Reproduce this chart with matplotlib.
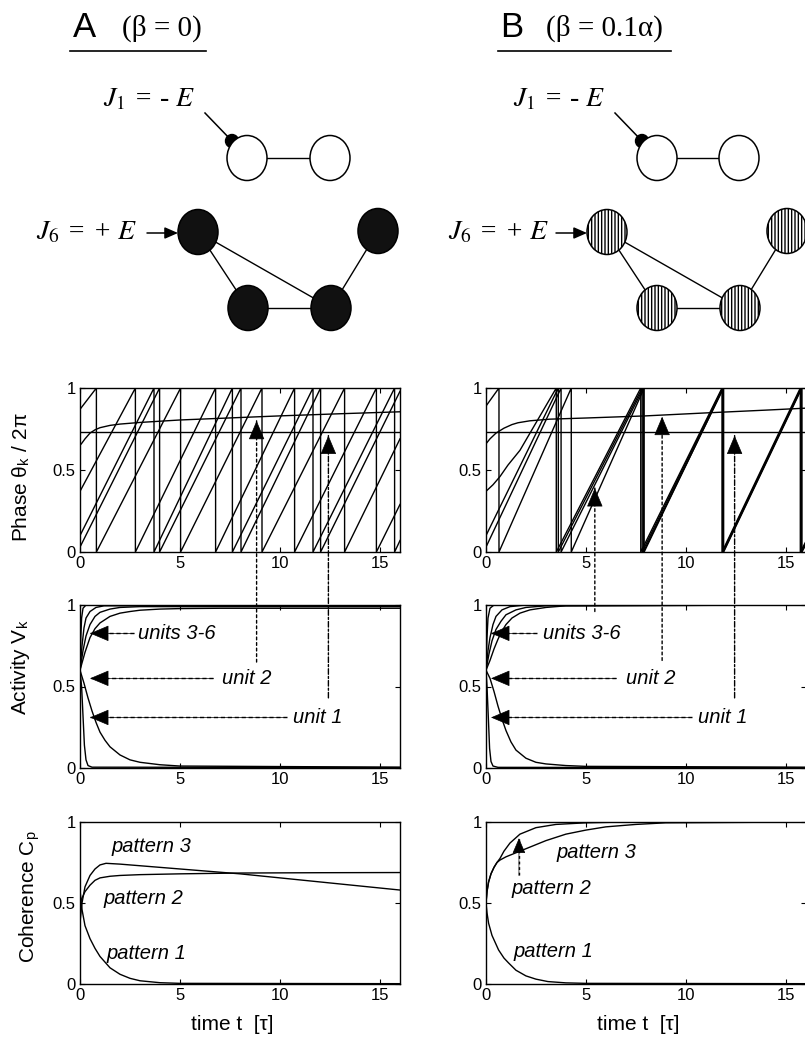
import matplotlib
matplotlib.use('Agg')
import matplotlib.pyplot as plt
from matplotlib.patches import Ellipse, ConnectionPatch

plt.rcParams['font.family'] = ['Liberation Sans', 'DejaVu Sans']
plt.rcParams['mathtext.fontset'] = 'stix'

# ---------------- data ----------------
# phase of the oscillating units 3-6 (start points, wrap times, end phase)
phaseA_init_t = [[0.0], [0.0], [0.0], [0.0]]
phaseA_init_p = [[0.87], [0.37], [0.10], [0.03]]
phaseA_wraps = [[0.82, 5.03, 9.10, 13.23],
                [2.77, 6.78, 10.73, 14.82],
                [3.70, 7.62, 11.65, 15.73],
                [3.98, 8.05, 12.03]]
phaseA_end = [0.69, 0.29, 0.07, 0.98]

phaseB_init_t = [[0.0], [0.0, 0.35, 0.7, 1.1, 1.7], [0.0], [0.0]]
phaseB_init_p = [[0.89], [0.37, 0.41, 0.46, 0.53, 0.62], [0.10], [0.03]]
phaseB_wraps = [[0.65, 4.27, 7.92, 11.88, 15.80],
                [3.52, 7.75, 11.82, 15.74],
                [3.62, 7.82, 11.85, 15.78],
                [3.76, 7.88, 11.90, 15.82]]
phaseB_end = [0.05, 0.06, 0.05, 0.04]

phase_u1 = 0.734
phaseA_u2_t = [0, 0.1, 0.25, 0.5, 0.75, 1, 1.5, 2, 3, 5, 8, 10, 13, 16]
phaseA_u2_p = [0.65, 0.665, 0.69, 0.725, 0.745, 0.758, 0.772, 0.78, 0.79, 0.805, 0.82, 0.83, 0.843, 0.855]
phaseB_u2_t = [0, 0.2, 0.5, 0.9, 1.3, 1.6, 2.2, 3.2, 5, 8, 11, 14, 16]
phaseB_u2_p = [0.66, 0.69, 0.725, 0.755, 0.777, 0.788, 0.8, 0.81, 0.817, 0.83, 0.848, 0.865, 0.877]

# activities (units 3-6, unit 1, unit 2)
actA_t = [[0, 0.04, 0.08, 0.15, 0.3, 16],
          [0, 0.1, 0.2, 0.3, 0.5, 0.8, 1.2, 16],
          [0, 0.15, 0.3, 0.5, 0.75, 1, 1.5, 2, 3, 16],
          [0, 0.25, 0.5, 0.75, 1, 1.5, 2, 2.5, 3, 4, 5, 7, 16],
          [0, 0.2, 0.4, 0.6, 0.8, 1.0, 1.25, 1.5, 2, 2.5, 3, 4, 5, 16],
          [0, 0.08, 0.15, 0.22, 0.3, 0.4, 0.6, 16]]
actA_v = [[0.6, 0.8, 0.92, 0.98, 1.0, 1.0],
          [0.6, 0.75, 0.86, 0.92, 0.96, 0.985, 0.995, 1.0],
          [0.6, 0.72, 0.81, 0.88, 0.93, 0.955, 0.975, 0.985, 0.99, 0.99],
          [0.6, 0.71, 0.8, 0.855, 0.89, 0.93, 0.95, 0.96, 0.968, 0.975, 0.978, 0.98, 0.98],
          [0.6, 0.52, 0.43, 0.35, 0.28, 0.22, 0.17, 0.13, 0.08, 0.05, 0.035, 0.02, 0.012, 0.005],
          [0.6, 0.5, 0.32, 0.14, 0.05, 0.015, 0.005, 0.003]]
actB_t = [[0, 0.05, 0.1, 0.2, 0.4, 16],
          [0, 0.1, 0.2, 0.35, 0.5, 0.8, 1.2, 2, 16],
          [0, 0.15, 0.3, 0.5, 0.75, 1, 1.5, 2, 3, 16],
          [0, 0.2, 0.4, 0.6, 0.8, 1.0, 1.3, 1.7, 2.2, 3, 4, 16],
          [0, 0.2, 0.4, 0.6, 0.8, 1.0, 1.25, 1.5, 2, 2.5, 3, 4, 5, 16],
          [0, 0.05, 0.12, 0.18, 0.25, 0.35, 0.6, 16]]
actB_v = [[0.6, 0.8, 0.92, 0.98, 1.0, 1.0],
          [0.6, 0.72, 0.8, 0.88, 0.93, 0.97, 0.99, 1.0, 1.0],
          [0.6, 0.7, 0.78, 0.85, 0.9, 0.94, 0.97, 0.985, 0.995, 1.0],
          [0.6, 0.66, 0.73, 0.79, 0.84, 0.88, 0.92, 0.95, 0.97, 0.985, 0.995, 1.0],
          [0.6, 0.55, 0.47, 0.38, 0.3, 0.23, 0.16, 0.11, 0.06, 0.035, 0.025, 0.015, 0.01, 0.005],
          [0.6, 0.5, 0.3, 0.12, 0.04, 0.012, 0.004, 0.002]]

# coherences (pattern 1, 2, 3)
cohA_t = [[0, 0.1, 0.25, 0.5, 0.75, 1, 1.5, 2, 2.5, 3, 4, 5, 16],
          [0, 0.1, 0.25, 0.5, 0.75, 1, 1.5, 2, 3, 5, 8, 12, 16],
          [0, 0.1, 0.25, 0.5, 0.75, 1, 1.3, 2, 4, 6, 8, 10, 12, 14, 16]]
cohA_v = [[0.58, 0.46, 0.36, 0.28, 0.22, 0.17, 0.1, 0.06, 0.035, 0.02, 0.008, 0.004, 0.002],
          [0.5, 0.53, 0.57, 0.61, 0.64, 0.655, 0.665, 0.67, 0.675, 0.68, 0.685, 0.687, 0.688],
          [0.38, 0.5, 0.6, 0.67, 0.71, 0.735, 0.745, 0.74, 0.72, 0.7, 0.68, 0.655, 0.63, 0.605, 0.58]]
cohB_t = [[0, 0.05, 0.13, 0.3, 0.63, 0.9, 1.13, 1.5, 2, 2.5, 3.1, 4, 5, 16],
          [0, 0.05, 0.13, 0.25, 0.4, 0.55, 0.7, 0.9, 1.2, 1.7, 2.5, 3.5, 5, 7, 16],
          [0, 0.05, 0.13, 0.25, 0.4, 0.55, 0.7, 1, 1.5, 2, 3, 4, 5, 6, 7.5, 9, 16]]
cohB_v = [[0.5, 0.44, 0.375, 0.3, 0.21, 0.16, 0.13, 0.085, 0.05, 0.03, 0.015, 0.007, 0.004, 0.002],
          [0.5, 0.57, 0.63, 0.68, 0.72, 0.75, 0.775, 0.82, 0.87, 0.925, 0.965, 0.985, 0.995, 1.0, 1.0],
          [0.5, 0.57, 0.63, 0.68, 0.72, 0.75, 0.765, 0.785, 0.81, 0.835, 0.885, 0.925, 0.95, 0.97, 0.985, 0.995, 1.0]]

# network sketches (pixel positions of nodes)
netA_open = [(247, 158), (330, 158)]
netA_full = [(198, 232), (248, 308), (331, 308), (378, 231)]
netB_open = [(657, 158), (739, 158)]
netB_full = [(607, 232), (657, 308), (740, 308), (787, 231)]
net_edges = [(0, 1), (0, 2), (1, 2), (2, 3)]

# ---------------- figure ----------------
W, H = 805, 1038
fig = plt.figure(figsize=(W / 100, H / 100), dpi=100)


def box(x0, x1, ytop, ybot):
    return [x0 / W, 1 - ybot / H, (x1 - x0) / W, (ybot - ytop) / H]


cols = [(80, 400), (486, 805.5)]
rows = [(388, 552), (605, 768), (822, 984)]
axes = [[fig.add_axes(box(c[0], c[1], r[0], r[1])) for c in cols] for r in rows]

for row in axes:
    for ax in row:
        ax.set_xlim(0, 16)
        ax.set_ylim(0, 1)
        ax.set_xticks([0, 5, 10, 15])
        ax.set_yticks([0, 0.5, 1])
        ax.set_yticklabels(['0', '0.5', '1'])
        ax.tick_params(direction='in', top=True, right=True, length=3.5,
                       width=0.8, labelsize=12, pad=3)
        for s in ax.spines.values():
            s.set_linewidth(1.0)

LW = 1.0


def saw(init_t, init_p, wraps, end):
    t = list(init_t)
    p = list(init_p)
    for w in wraps:
        t += [w, w]
        p += [1.0, 0.0]
    t.append(16.0)
    p.append(end)
    return t, p


for ax, it, ip, wr, en, u2t, u2p in [
        (axes[0][0], phaseA_init_t, phaseA_init_p, phaseA_wraps, phaseA_end, phaseA_u2_t, phaseA_u2_p),
        (axes[0][1], phaseB_init_t, phaseB_init_p, phaseB_wraps, phaseB_end, phaseB_u2_t, phaseB_u2_p)]:
    for k in range(4):
        t, p = saw(it[k], ip[k], wr[k], en[k])
        ax.plot(t, p, color='k', lw=LW)
    ax.plot([0, 16], [phase_u1, phase_u1], color='k', lw=LW)
    ax.plot(u2t, u2p, color='k', lw=LW)

for ax, ts, vs in [(axes[1][0], actA_t, actA_v), (axes[1][1], actB_t, actB_v)]:
    for t, v in zip(ts, vs):
        ax.plot(t, v, color='k', lw=LW)

for ax, ts, vs in [(axes[2][0], cohA_t, cohA_v), (axes[2][1], cohB_t, cohB_v)]:
    for t, v in zip(ts, vs):
        ax.plot(t, v, color='k', lw=LW)

# labels
lab = dict(fontsize=15)
axes[0][0].set_ylabel('Phase θ$_\\mathregular{k}$ / 2π', **lab)
axes[0][0].yaxis.set_label_coords(-0.15, 0.457)
axes[1][0].set_ylabel('Activity V$_\\mathregular{k}$', **lab)
axes[1][0].yaxis.set_label_coords(-0.15, 0.62)
axes[2][0].set_ylabel('Coherence C$_\\mathregular{p}$', **lab)
axes[2][0].yaxis.set_label_coords(-0.12, 0.537)
for ax in axes[2]:
    ax.set_xlabel('time t  [τ]', **lab)
    ax.xaxis.set_label_coords(0.475, -0.19)

HEAD = '-|>,head_length=0.95,head_width=0.4'
SMALL = '-|>,head_length=0.75,head_width=0.32'
ann = dict(fontsize=14.5, style='italic', va='center', ha='left')


def head(ax, frm, tip, size=HEAD):
    # solid filled arrow head only
    ax.annotate('', xy=tip, xytext=frm,
                arrowprops=dict(arrowstyle=size, color='k', lw=0.5,
                                shrinkA=0, shrinkB=0, mutation_scale=13))


def arrow(ax, start, tip, ls, size=HEAD):
    ax.plot([start[0], tip[0]], [start[1], tip[1]], color='k', lw=1.0, linestyle=ls)
    head(ax, start, tip, size)


def cross(ax_from, p_from, ax_to, p_to, ls):
    con = ConnectionPatch(xyA=p_from, coordsA='data', axesA=ax_from,
                          xyB=p_to, coordsB='data', axesB=ax_to,
                          arrowstyle='-', color='k', lw=1.0, linestyle=ls,
                          zorder=6)
    fig.add_artist(con)
    head(ax_to, (p_to[0], p_to[1] - 0.02), p_to)


dot = (0, (2, 2))
dash = (0, (3, 2))
dashdot = (0, (4, 1.5, 1.5, 1.5))

# activity annotations
for ax, txt_x, line_x, tip in [(axes[1][0], [2.92, 7.08, 10.67], [2.7, 6.67, 10.33], 0.5),
                               (axes[1][1], [2.87, 7.03, 10.6], [2.53, 6.53, 10.3], 0.25)]:
    for s, tx, lx, y in zip(['units 3-6', 'unit 2', 'unit 1'], txt_x, line_x, [0.826, 0.55, 0.31]):
        ax.text(tx, y, s, **ann)
        arrow(ax, (lx, y), (tip, y), dash)

# vertical arrows from activity labels to phase curves
cross(axes[1][0], (8.83, 0.65), axes[0][0], (8.83, 0.80), dot)
cross(axes[1][0], (12.42, 0.43), axes[0][0], (12.42, 0.71), dashdot)
cross(axes[1][1], (5.45, 0.96), axes[0][1], (5.45, 0.39), dot)
cross(axes[1][1], (8.82, 0.66), axes[0][1], (8.82, 0.825), dot)
cross(axes[1][1], (12.45, 0.43), axes[0][1], (12.45, 0.71), dashdot)

# coherence labels
for ax, pos in [(axes[2][0], [(1.33, 0.19), (1.17, 0.53), (1.58, 0.85)]),
                (axes[2][1], [(1.37, 0.2), (1.28, 0.59), (3.53, 0.81)])]:
    for s, (x, y) in zip(['pattern 1', 'pattern 2', 'pattern 3'], pos):
        ax.text(x, y, s, **ann)
arrow(axes[2][1], (1.65, 0.67), (1.65, 0.9), dot, SMALL)

# ---------------- top: titles and network sketches ----------------
ov = fig.add_axes([0, 0, 1, 1])
ov.set_xlim(0, W)
ov.set_ylim(H, 0)
ov.axis('off')
ov.patch.set_alpha(0)

serif = dict(family='Liberation Serif')
ov.text(73, 37, 'A', fontsize=25, va='baseline')
ov.text(122, 36, '(β = 0)', fontsize=21, va='baseline', **serif)
ov.plot([70, 206], [51, 51], color='k', lw=1.2)
ov.text(500, 37, 'B', fontsize=25, va='baseline')
ov.text(546, 36, '(β = 0.1α)', fontsize=21, va='baseline', **serif)
ov.plot([498, 671], [51, 51], color='k', lw=1.2)


def network(open_nodes, full_nodes, hatched, j1_x, j6_x):
    # edges
    ov.plot([open_nodes[0][0], open_nodes[1][0]], [open_nodes[0][1], open_nodes[1][1]],
            color='k', lw=1.0, zorder=1)
    for a, b in net_edges:
        ov.plot([full_nodes[a][0], full_nodes[b][0]], [full_nodes[a][1], full_nodes[b][1]],
                color='k', lw=1.0, zorder=1)
    for c in open_nodes:
        ov.add_patch(Ellipse(c, 40, 45, fc='white', ec='k', lw=1.1, zorder=3))
    for c in full_nodes:
        if hatched:
            ov.add_patch(Ellipse(c, 40, 45, fc='white', ec='k', lw=1.1,
                                 hatch='|||||', zorder=3))
        else:
            ov.add_patch(Ellipse(c, 40, 45, fc='#111111', ec='k', lw=1.1, zorder=3))
    # inhibitory input to unit 1
    ox, oy = open_nodes[0]
    ov.plot([ox - 42, ox - 15], [oy - 45, oy - 17], color='k', lw=1.1, zorder=1)
    ov.add_patch(Ellipse((ox - 15, oy - 17), 13, 13, fc='k', ec='k', zorder=2))
    ov.text(j1_x, 106, r'$J_1$ = - $E$', fontsize=20, style='italic',
            va='baseline', **serif)
    # excitatory input to unit 6
    fx, fy = full_nodes[0]
    ov.annotate('', xy=(fx - 20, fy + 1), xytext=(fx - 51, fy + 1),
                arrowprops=dict(arrowstyle='-|>,head_length=0.8,head_width=0.35',
                                color='k', lw=1.1, shrinkA=0, shrinkB=0))
    ov.text(j6_x, 239, r'$J_6$ = + $E$', fontsize=20, style='italic',
            va='baseline', **serif)


network(netA_open, netA_full, False, 103, 36)
network(netB_open, netB_full, True, 513, 448)

fig.savefig('out.png', dpi=100)
